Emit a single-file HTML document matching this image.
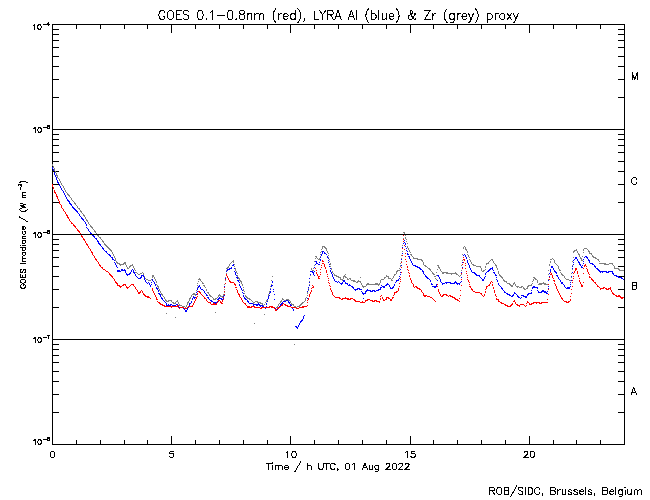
<!DOCTYPE html>
<html><head><meta charset="utf-8"><title>GOES / LYRA proxy</title>
<style>
html,body{margin:0;padding:0;background:#fff;}
body{width:650px;height:500px;overflow:hidden;font-family:"Liberation Sans",sans-serif;}
svg{display:block;}
.k{stroke:#000;stroke-width:1;fill:none;stroke-linecap:square;}
.t{stroke:#000;stroke-width:1;fill:none;stroke-linecap:round;stroke-linejoin:round;}
</style></head><body>
<svg width="650" height="500" viewBox="0 0 650 500" shape-rendering="crispEdges">
<rect x="0" y="0" width="650" height="500" fill="#fff"/>
<path class="k" d="M52.5 24.5H624.5V444.5H52.5ZM52.5 444.5v-8M52.5 24.5v8M76.5 444.5v-4M76.5 24.5v4M100.5 444.5v-4M100.5 24.5v4M124.5 444.5v-4M124.5 24.5v4M147.5 444.5v-4M147.5 24.5v4M171.5 444.5v-8M171.5 24.5v8M195.5 444.5v-4M195.5 24.5v4M219.5 444.5v-4M219.5 24.5v4M243.5 444.5v-4M243.5 24.5v4M267.5 444.5v-4M267.5 24.5v4M290.5 444.5v-8M290.5 24.5v8M314.5 444.5v-4M314.5 24.5v4M338.5 444.5v-4M338.5 24.5v4M362.5 444.5v-4M362.5 24.5v4M386.5 444.5v-4M386.5 24.5v4M410.5 444.5v-8M410.5 24.5v8M433.5 444.5v-4M433.5 24.5v4M457.5 444.5v-4M457.5 24.5v4M481.5 444.5v-4M481.5 24.5v4M505.5 444.5v-4M505.5 24.5v4M529.5 444.5v-8M529.5 24.5v8M553.5 444.5v-4M553.5 24.5v4M576.5 444.5v-4M576.5 24.5v4M600.5 444.5v-4M600.5 24.5v4M624.5 444.5v-4M624.5 24.5v4M52.5 444.5h11M624.5 444.5h-11M52.5 412.5h6M624.5 412.5h-6M52.5 394.5h6M624.5 394.5h-6M52.5 381.5h6M624.5 381.5h-6M52.5 371.5h6M624.5 371.5h-6M52.5 362.5h6M624.5 362.5h-6M52.5 355.5h6M624.5 355.5h-6M52.5 349.5h6M624.5 349.5h-6M52.5 344.5h6M624.5 344.5h-6M52.5 339.5h11M624.5 339.5h-11M52.5 307.5h6M624.5 307.5h-6M52.5 289.5h6M624.5 289.5h-6M52.5 276.5h6M624.5 276.5h-6M52.5 266.5h6M624.5 266.5h-6M52.5 257.5h6M624.5 257.5h-6M52.5 250.5h6M624.5 250.5h-6M52.5 244.5h6M624.5 244.5h-6M52.5 239.5h6M624.5 239.5h-6M52.5 234.5h11M624.5 234.5h-11M52.5 202.5h6M624.5 202.5h-6M52.5 184.5h6M624.5 184.5h-6M52.5 171.5h6M624.5 171.5h-6M52.5 161.5h6M624.5 161.5h-6M52.5 152.5h6M624.5 152.5h-6M52.5 145.5h6M624.5 145.5h-6M52.5 139.5h6M624.5 139.5h-6M52.5 134.5h6M624.5 134.5h-6M52.5 129.5h11M624.5 129.5h-11M52.5 97.5h6M624.5 97.5h-6M52.5 79.5h6M624.5 79.5h-6M52.5 66.5h6M624.5 66.5h-6M52.5 56.5h6M624.5 56.5h-6M52.5 47.5h6M624.5 47.5h-6M52.5 40.5h6M624.5 40.5h-6M52.5 34.5h6M624.5 34.5h-6M52.5 29.5h6M624.5 29.5h-6"/>
<path d="M52 164.5h1M52 165.5h1M53 166.5h1M53 167.5h1M54 168.5h1M54 169.5h1M54 170.5h1M55 171.5h1M55 172.5h1M56 173.5h1M56 174.5h1M56 175.5h2M57 176.5h1M57 177.5h1M58 178.5h1M59 179.5h1M59 180.5h1M60 181.5h1M60 182.5h1M61 183.5h1M61 184.5h1M62 185.5h1M63 186.5h1M63 187.5h1M64 188.5h1M64 189.5h1M65 190.5h1M65 191.5h1M66 192.5h1M67 193.5h1M67 194.5h2M68 195.5h2M69 196.5h1M70 197.5h1M71 198.5h1M71 199.5h1M72 200.5h1M73 201.5h1M74 202.5h1M74 203.5h2M75 204.5h1M76 205.5h1M77 206.5h1M77 207.5h1M78 208.5h2M79 209.5h1M80 210.5h1M80 211.5h2M81 212.5h1M82 213.5h1M83 214.5h1M83 215.5h2M84 216.5h1M85 217.5h1M85 218.5h1M86 219.5h1M86 220.5h2M87 221.5h1M88 222.5h1M88 223.5h1M89 224.5h1M90 225.5h1M90 226.5h2M91 227.5h2M92 228.5h1M93 229.5h1M94 230.5h1M94 231.5h2M95 232.5h1M403 232.5h2M96 233.5h1M404 233.5h1M96 234.5h2M97 235.5h2M405 235.5h1M98 236.5h1M99 237.5h2M405 237.5h1M100 238.5h1M403 238.5h1M405 238.5h1M101 239.5h1M406 239.5h1M102 240.5h1M102 241.5h2M406 241.5h1M103 242.5h1M104 243.5h1M407 243.5h1M104 244.5h2M105 245.5h2M402 245.5h1M106 246.5h2M322 246.5h3M407 246.5h1M464 246.5h1M107 247.5h2M322 247.5h1M324 247.5h2M407 247.5h1M463 247.5h1M465 247.5h1M108 248.5h2M322 248.5h1M325 248.5h2M408 248.5h1M463 248.5h1M465 248.5h1M584 248.5h3M109 249.5h2M321 249.5h1M326 249.5h1M408 249.5h1M465 249.5h2M576 249.5h1M583 249.5h1M587 249.5h1M110 250.5h2M326 250.5h1M409 250.5h1M466 250.5h1M574 250.5h3M583 250.5h1M588 250.5h1M111 251.5h1M321 251.5h1M327 251.5h1M402 251.5h1M409 251.5h1M467 251.5h1M573 251.5h2M577 251.5h1M588 251.5h2M112 252.5h1M320 252.5h1M327 252.5h1M410 252.5h1M467 252.5h1M573 252.5h1M577 252.5h1M583 252.5h1M589 252.5h1M112 253.5h1M328 253.5h1M578 253.5h1M589 253.5h3M113 254.5h1M320 254.5h1M410 254.5h2M462 254.5h1M467 254.5h1M578 254.5h2M591 254.5h1M113 255.5h1M328 255.5h1M401 255.5h1M411 255.5h1M468 255.5h1M579 255.5h1M592 255.5h1M114 256.5h1M315 256.5h2M320 256.5h1M412 256.5h1M468 256.5h1M579 256.5h1M582 256.5h1M592 256.5h2M114 257.5h1M316 257.5h1M328 257.5h1M413 257.5h1M469 257.5h1M573 257.5h1M580 257.5h1M593 257.5h3M115 258.5h1M315 258.5h1M317 258.5h1M319 258.5h1M401 258.5h1M413 258.5h5M552 258.5h1M580 258.5h2M595 258.5h2M115 259.5h1M318 259.5h2M329 259.5h1M417 259.5h5M469 259.5h1M491 259.5h2M550 259.5h2M553 259.5h1M581 259.5h1M597 259.5h2M115 260.5h1M233 260.5h1M421 260.5h2M462 260.5h1M470 260.5h1M490 260.5h1M492 260.5h1M554 260.5h1M581 260.5h2M598 260.5h1M116 261.5h1M232 261.5h2M314 261.5h1M329 261.5h1M401 261.5h1M422 261.5h1M470 261.5h1M489 261.5h1M493 261.5h1M550 261.5h1M554 261.5h1M572 261.5h1M599 261.5h1M116 262.5h2M124 262.5h2M231 262.5h1M233 262.5h1M423 262.5h1M471 262.5h1M488 262.5h1M493 262.5h1M550 262.5h1M554 262.5h1M117 263.5h3M123 263.5h3M230 263.5h1M330 263.5h1M400 263.5h1M423 263.5h1M471 263.5h1M486 263.5h3M494 263.5h1M555 263.5h1M599 263.5h7M609 263.5h4M119 264.5h5M125 264.5h1M132 264.5h1M229 264.5h1M234 264.5h1M330 264.5h1M423 264.5h1M472 264.5h2M486 264.5h1M495 264.5h1M549 264.5h1M556 264.5h1M604 264.5h5M612 264.5h1M120 265.5h1M126 265.5h1M130 265.5h3M229 265.5h1M314 265.5h1M400 265.5h1M424 265.5h2M437 265.5h2M461 265.5h1M473 265.5h3M495 265.5h2M549 265.5h1M557 265.5h1M572 265.5h1M613 265.5h1M126 266.5h1M129 266.5h2M133 266.5h1M228 266.5h1M234 266.5h1M330 266.5h1M400 266.5h1M425 266.5h2M438 266.5h1M476 266.5h5M485 266.5h1M496 266.5h1M558 266.5h1M614 266.5h1M127 267.5h1M129 267.5h1M133 267.5h1M227 267.5h2M314 267.5h1M427 267.5h1M438 267.5h2M480 267.5h1M485 267.5h1M496 267.5h1M558 267.5h1M614 267.5h1M127 268.5h2M134 268.5h1M226 268.5h2M235 268.5h1M311 268.5h1M313 268.5h1M331 268.5h1M399 268.5h1M428 268.5h2M439 268.5h1M481 268.5h1M497 268.5h1M558 268.5h1M614 268.5h5M134 269.5h1M235 269.5h1M311 269.5h1M331 269.5h1M429 269.5h2M437 269.5h1M440 269.5h1M481 269.5h1M485 269.5h1M497 269.5h1M559 269.5h1M572 269.5h1M618 269.5h2M135 270.5h1M226 270.5h1M235 270.5h1M312 270.5h2M397 270.5h3M430 270.5h1M440 270.5h1M461 270.5h1M481 270.5h1M483 270.5h2M548 270.5h1M559 270.5h2M619 270.5h5M236 271.5h1M310 271.5h1M312 271.5h1M332 271.5h1M396 271.5h2M431 271.5h1M441 271.5h1M482 271.5h2M498 271.5h1M135 272.5h2M142 272.5h1M236 272.5h1M313 272.5h1M332 272.5h1M396 272.5h1M432 272.5h1M436 272.5h1M442 272.5h6M455 272.5h1M498 272.5h1M560 272.5h1M137 273.5h1M140 273.5h2M143 273.5h1M226 273.5h1M237 273.5h1M333 273.5h1M396 273.5h1M432 273.5h2M442 273.5h2M446 273.5h11M498 273.5h1M561 273.5h1M571 273.5h1M138 274.5h2M143 274.5h1M334 274.5h1M345 274.5h1M394 274.5h2M433 274.5h2M451 274.5h1M456 274.5h2M461 274.5h1M499 274.5h1M548 274.5h1M561 274.5h2M143 275.5h1M152 275.5h2M237 275.5h1M310 275.5h1M334 275.5h3M344 275.5h1M386 275.5h1M394 275.5h1M436 275.5h1M458 275.5h1M460 275.5h1M499 275.5h2M562 275.5h2M144 276.5h1M152 276.5h2M237 276.5h1M272 276.5h1M336 276.5h3M343 276.5h3M386 276.5h3M393 276.5h1M434 276.5h2M459 276.5h1M500 276.5h2M564 276.5h1M152 277.5h1M154 277.5h1M225 277.5h1M238 277.5h1M338 277.5h3M343 277.5h1M345 277.5h2M360 277.5h1M384 277.5h2M388 277.5h1M393 277.5h1M501 277.5h2M533 277.5h2M564 277.5h1M571 277.5h1M144 278.5h2M154 278.5h1M199 278.5h1M238 278.5h2M309 278.5h1M340 278.5h1M343 278.5h1M347 278.5h1M349 278.5h2M384 278.5h1M388 278.5h3M392 278.5h1M435 278.5h1M502 278.5h1M534 278.5h2M565 278.5h1M146 279.5h2M151 279.5h1M155 279.5h1M198 279.5h3M239 279.5h1M340 279.5h3M347 279.5h2M350 279.5h1M381 279.5h3M391 279.5h1M436 279.5h1M503 279.5h1M533 279.5h1M535 279.5h2M548 279.5h1M566 279.5h3M148 280.5h3M155 280.5h1M200 280.5h1M225 280.5h1M239 280.5h2M271 280.5h1M342 280.5h1M351 280.5h4M358 280.5h1M380 280.5h1M391 280.5h2M503 280.5h2M533 280.5h1M537 280.5h1M569 280.5h2M156 281.5h1M198 281.5h1M201 281.5h1M240 281.5h2M309 281.5h1M353 281.5h3M357 281.5h4M380 281.5h1M504 281.5h3M532 281.5h1M537 281.5h1M156 282.5h1M202 282.5h1M241 282.5h1M356 282.5h2M360 282.5h1M380 282.5h1M506 282.5h1M514 282.5h1M537 282.5h1M543 282.5h1M197 283.5h1M202 283.5h2M241 283.5h1M361 283.5h1M367 283.5h2M375 283.5h3M379 283.5h1M507 283.5h3M513 283.5h2M532 283.5h1M539 283.5h7M156 284.5h1M224 284.5h1M242 284.5h1M271 284.5h1M309 284.5h1M361 284.5h1M366 284.5h14M509 284.5h2M513 284.5h1M515 284.5h1M531 284.5h1M538 284.5h4M544 284.5h4M157 285.5h1M197 285.5h1M203 285.5h2M242 285.5h1M362 285.5h1M366 285.5h1M378 285.5h1M510 285.5h3M515 285.5h1M528 285.5h4M157 286.5h2M204 286.5h1M270 286.5h1M362 286.5h4M511 286.5h2M516 286.5h3M521 286.5h2M527 286.5h2M158 287.5h1M197 287.5h1M205 287.5h1M243 287.5h1M363 287.5h1M517 287.5h1M519 287.5h3M523 287.5h1M527 287.5h1M158 288.5h1M270 288.5h1M308 288.5h1M523 288.5h2M526 288.5h2M159 289.5h1M206 289.5h1M224 289.5h1M243 289.5h1M270 289.5h1M524 289.5h2M159 290.5h1M196 290.5h1M206 290.5h1M243 290.5h1M308 290.5h1M160 291.5h1M244 291.5h1M269 291.5h1M160 292.5h1M196 292.5h1M207 292.5h2M224 292.5h1M269 292.5h1M307 292.5h1M161 293.5h1M193 293.5h2M208 293.5h1M244 293.5h1M307 293.5h1M161 294.5h2M192 294.5h4M209 294.5h1M219 294.5h1M223 294.5h1M268 294.5h1M162 295.5h1M191 295.5h1M195 295.5h1M209 295.5h2M218 295.5h3M223 295.5h1M245 295.5h1M268 295.5h1M307 295.5h1M163 296.5h1M191 296.5h1M210 296.5h2M218 296.5h1M220 296.5h3M245 296.5h2M164 297.5h1M190 297.5h1M212 297.5h1M217 297.5h1M222 297.5h1M246 297.5h2M268 297.5h1M306 297.5h1M164 298.5h1M189 298.5h2M213 298.5h1M215 298.5h2M247 298.5h3M282 298.5h1M305 298.5h1M165 299.5h1M189 299.5h1M213 299.5h3M249 299.5h2M267 299.5h1M282 299.5h2M286 299.5h3M305 299.5h1M165 300.5h2M168 300.5h4M177 300.5h1M189 300.5h1M251 300.5h1M266 300.5h2M281 300.5h1M284 300.5h3M288 300.5h2M305 300.5h1M166 301.5h3M171 301.5h1M176 301.5h2M188 301.5h1M252 301.5h1M255 301.5h3M266 301.5h1M280 301.5h2M290 301.5h1M304 301.5h1M172 302.5h2M175 302.5h1M178 302.5h1M187 302.5h2M253 302.5h2M257 302.5h4M265 302.5h1M280 302.5h1M290 302.5h1M302 302.5h2M173 303.5h3M178 303.5h1M187 303.5h1M253 303.5h1M260 303.5h3M279 303.5h1M291 303.5h1M301 303.5h2M179 304.5h1M187 304.5h1M262 304.5h1M264 304.5h1M278 304.5h1M291 304.5h3M300 304.5h2M179 305.5h3M186 305.5h1M263 305.5h1M278 305.5h1M293 305.5h1M299 305.5h2M182 306.5h3M186 306.5h1M277 306.5h1M294 306.5h2M297 306.5h3M183 307.5h1M185 307.5h1M276 307.5h2M295 307.5h2M215 312.5h1M166 313.5h1M264 314.5h1M175 317.5h1M254 323.5h1M294 344.5h1" stroke="#7f7f7f" stroke-width="1" fill="none"/>
<path d="M52 167.5h1M52 168.5h1M53 169.5h1M53 170.5h1M54 172.5h1M54 173.5h1M54 174.5h1M55 175.5h1M55 176.5h1M56 177.5h1M56 178.5h1M56 179.5h1M57 180.5h1M57 181.5h1M57 182.5h2M58 183.5h1M59 184.5h1M59 185.5h1M60 186.5h1M60 187.5h1M61 188.5h1M61 189.5h1M62 190.5h1M63 191.5h1M63 192.5h1M64 193.5h1M64 194.5h1M65 195.5h1M65 196.5h1M66 197.5h1M66 198.5h1M67 199.5h1M67 200.5h2M68 201.5h2M69 202.5h1M69 203.5h2M70 204.5h2M71 205.5h1M72 206.5h1M72 207.5h2M73 208.5h2M74 209.5h2M75 210.5h2M76 211.5h2M77 212.5h1M78 213.5h1M79 214.5h1M79 215.5h1M80 216.5h1M81 217.5h1M81 218.5h2M82 219.5h2M83 220.5h1M84 221.5h1M85 222.5h1M85 223.5h1M86 224.5h1M86 225.5h1M86 227.5h1M87 228.5h1M88 229.5h1M88 230.5h1M89 231.5h1M90 232.5h1M90 233.5h2M91 234.5h2M92 235.5h2M93 236.5h2M94 237.5h1M95 238.5h2M96 239.5h1M403 239.5h1M97 240.5h1M404 240.5h1M97 241.5h2M403 241.5h1M98 242.5h1M404 242.5h1M98 243.5h2M403 243.5h1M405 243.5h1M99 244.5h2M405 244.5h1M100 245.5h1M101 246.5h1M405 246.5h1M102 247.5h1M402 247.5h1M102 248.5h2M406 248.5h1M103 249.5h1M104 250.5h1M406 250.5h1M105 251.5h2M322 251.5h2M407 251.5h1M106 252.5h1M322 252.5h1M324 252.5h1M107 253.5h1M322 253.5h1M324 253.5h2M402 253.5h1M407 253.5h1M108 254.5h2M321 254.5h1M326 254.5h1M407 254.5h2M464 254.5h1M109 255.5h2M321 255.5h1M463 255.5h1M465 255.5h1M110 256.5h1M327 256.5h1M408 256.5h2M465 256.5h1M585 256.5h2M111 257.5h2M320 257.5h1M327 257.5h1M409 257.5h1M463 257.5h1M466 257.5h1M575 257.5h2M584 257.5h1M586 257.5h2M112 258.5h1M328 258.5h1M409 258.5h1M466 258.5h1M575 258.5h2M587 258.5h1M112 259.5h2M320 259.5h1M401 259.5h1M410 259.5h1M574 259.5h1M577 259.5h1M583 259.5h1M588 259.5h1M114 260.5h1M320 260.5h1M328 260.5h1M410 260.5h1M467 260.5h1M573 260.5h1M577 260.5h1M588 260.5h2M315 261.5h2M411 261.5h1M467 261.5h1M578 261.5h1M583 261.5h1M589 261.5h1M114 262.5h1M316 262.5h1M319 262.5h1M328 262.5h1M401 262.5h1M411 262.5h1M462 262.5h1M467 262.5h1M573 262.5h1M578 262.5h2M589 262.5h1M115 263.5h1M316 263.5h2M412 263.5h1M468 263.5h1M579 263.5h1M583 263.5h1M590 263.5h3M115 264.5h1M233 264.5h1M315 264.5h1M318 264.5h2M329 264.5h1M412 264.5h1M468 264.5h1M573 264.5h1M579 264.5h2M592 264.5h2M116 265.5h1M232 265.5h2M401 265.5h1M413 265.5h3M469 265.5h1M580 265.5h1M582 265.5h1M594 265.5h1M116 266.5h1M329 266.5h1M415 266.5h3M469 266.5h1M551 266.5h2M572 266.5h1M581 266.5h1M594 266.5h2M117 267.5h1M231 267.5h1M314 267.5h1M417 267.5h3M462 267.5h1M469 267.5h1M492 267.5h1M551 267.5h2M581 267.5h2M595 267.5h1M229 268.5h3M234 268.5h1M330 268.5h1M419 268.5h2M470 268.5h1M490 268.5h3M553 268.5h1M572 268.5h1M596 268.5h2M121 269.5h2M124 269.5h1M132 269.5h1M227 269.5h3M400 269.5h1M420 269.5h2M470 269.5h1M489 269.5h2M492 269.5h1M550 269.5h1M553 269.5h1M597 269.5h2M117 270.5h3M121 270.5h5M131 270.5h1M133 270.5h1M227 270.5h1M330 270.5h1M422 270.5h1M471 270.5h1M488 270.5h2M493 270.5h1M550 270.5h1M554 270.5h1M598 270.5h2M117 271.5h4M125 271.5h1M131 271.5h1M133 271.5h1M226 271.5h1M234 271.5h1M310 271.5h3M314 271.5h1M330 271.5h1M422 271.5h2M471 271.5h1M487 271.5h2M550 271.5h1M554 271.5h2M599 271.5h8M608 271.5h5M125 272.5h1M130 272.5h1M133 272.5h2M235 272.5h1M312 272.5h2M331 272.5h1M400 272.5h1M423 272.5h1M461 272.5h1M472 272.5h3M486 272.5h1M493 272.5h2M555 272.5h2M572 272.5h1M600 272.5h1M602 272.5h1M606 272.5h3M612 272.5h1M126 273.5h1M129 273.5h2M134 273.5h1M235 273.5h1M313 273.5h1M331 273.5h1M423 273.5h1M474 273.5h2M485 273.5h1M494 273.5h1M549 273.5h1M556 273.5h1M612 273.5h2M126 274.5h4M135 274.5h1M226 274.5h1M235 274.5h1M310 274.5h1M313 274.5h1M332 274.5h1M400 274.5h1M424 274.5h1M475 274.5h2M485 274.5h1M495 274.5h1M613 274.5h1M127 275.5h1M135 275.5h1M141 275.5h3M236 275.5h1M314 275.5h1M332 275.5h1M425 275.5h1M437 275.5h2M476 275.5h4M495 275.5h2M556 275.5h2M614 275.5h3M136 276.5h1M141 276.5h1M143 276.5h1M332 276.5h1M399 276.5h1M425 276.5h2M438 276.5h1M479 276.5h1M485 276.5h1M549 276.5h1M557 276.5h1M571 276.5h1M616 276.5h3M137 277.5h1M140 277.5h2M144 277.5h1M236 277.5h2M333 277.5h1M426 277.5h2M439 277.5h1M461 277.5h1M480 277.5h1M484 277.5h1M496 277.5h1M558 277.5h1M618 277.5h4M138 278.5h3M144 278.5h1M225 278.5h1M237 278.5h1M309 278.5h1M333 278.5h1M399 278.5h1M427 278.5h2M439 278.5h1M481 278.5h1M484 278.5h1M558 278.5h1M621 278.5h2M144 279.5h1M152 279.5h1M334 279.5h1M398 279.5h1M429 279.5h1M440 279.5h1M482 279.5h2M496 279.5h1M559 279.5h1M623 279.5h1M145 280.5h1M152 280.5h1M237 280.5h2M334 280.5h1M343 280.5h2M396 280.5h3M430 280.5h1M437 280.5h1M440 280.5h1M482 280.5h2M497 280.5h1M548 280.5h1M560 280.5h1M571 280.5h1M145 281.5h1M153 281.5h1M238 281.5h1M272 281.5h1M335 281.5h2M338 281.5h1M343 281.5h2M396 281.5h1M430 281.5h1M440 281.5h1M455 281.5h1M461 281.5h1M497 281.5h1M560 281.5h1M146 282.5h1M148 282.5h1M151 282.5h1M154 282.5h1M239 282.5h1M272 282.5h1M309 282.5h1M337 282.5h1M339 282.5h1M342 282.5h1M345 282.5h1M395 282.5h1M441 282.5h1M445 282.5h6M454 282.5h3M460 282.5h1M561 282.5h2M570 282.5h1M147 283.5h1M149 283.5h1M154 283.5h1M225 283.5h1M340 283.5h3M345 283.5h3M387 283.5h1M431 283.5h1M442 283.5h3M446 283.5h1M450 283.5h5M456 283.5h4M498 283.5h1M561 283.5h2M149 284.5h1M151 284.5h1M155 284.5h1M239 284.5h1M341 284.5h1M347 284.5h1M349 284.5h1M386 284.5h3M394 284.5h1M431 284.5h2M436 284.5h1M442 284.5h1M457 284.5h1M459 284.5h1M498 284.5h1M563 284.5h1M570 284.5h1M150 285.5h1M155 285.5h1M199 285.5h1M239 285.5h1M271 285.5h2M309 285.5h1M348 285.5h3M381 285.5h1M385 285.5h2M389 285.5h1M394 285.5h1M436 285.5h1M499 285.5h1M564 285.5h1M150 286.5h1M198 286.5h2M224 286.5h1M240 286.5h1M271 286.5h1M351 286.5h2M382 286.5h3M389 286.5h1M393 286.5h1M432 286.5h5M500 286.5h1M533 286.5h2M548 286.5h1M564 286.5h1M570 286.5h1M156 287.5h1M198 287.5h1M200 287.5h1M240 287.5h1M308 287.5h1M352 287.5h2M380 287.5h2M383 287.5h2M390 287.5h1M392 287.5h2M434 287.5h2M501 287.5h1M532 287.5h6M565 287.5h1M567 287.5h3M156 288.5h2M197 288.5h1M200 288.5h1M241 288.5h1M353 288.5h1M357 288.5h3M380 288.5h1M390 288.5h3M501 288.5h2M532 288.5h1M537 288.5h1M548 288.5h1M566 288.5h4M157 289.5h1M197 289.5h1M201 289.5h2M241 289.5h1M270 289.5h1M273 289.5h1M308 289.5h1M354 289.5h4M359 289.5h3M367 289.5h1M378 289.5h3M502 289.5h1M158 290.5h1M203 290.5h1M242 290.5h1M355 290.5h1M366 290.5h5M372 290.5h3M376 290.5h3M503 290.5h1M531 290.5h1M537 290.5h1M542 290.5h2M158 291.5h1M197 291.5h1M204 291.5h1M224 291.5h1M270 291.5h1M273 291.5h1M307 291.5h1M361 291.5h1M365 291.5h2M370 291.5h3M374 291.5h2M504 291.5h1M538 291.5h1M541 291.5h5M547 291.5h1M196 292.5h1M204 292.5h1M242 292.5h1M270 292.5h1M362 292.5h1M365 292.5h1M504 292.5h2M514 292.5h1M531 292.5h1M538 292.5h4M544 292.5h3M158 293.5h2M205 293.5h1M243 293.5h1M269 293.5h1M362 293.5h4M506 293.5h2M514 293.5h2M528 293.5h4M546 293.5h2M159 294.5h2M196 294.5h1M206 294.5h1M274 294.5h1M363 294.5h1M507 294.5h3M513 294.5h1M516 294.5h1M527 294.5h2M160 295.5h1M206 295.5h2M224 295.5h1M243 295.5h1M269 295.5h1M509 295.5h2M512 295.5h2M517 295.5h1M521 295.5h3M527 295.5h1M160 296.5h1M193 296.5h1M223 296.5h1M243 296.5h1M268 296.5h1M511 296.5h2M517 296.5h2M523 296.5h4M161 297.5h1M193 297.5h3M207 297.5h2M219 297.5h1M244 297.5h1M268 297.5h1M518 297.5h2M521 297.5h1M525 297.5h2M161 298.5h2M192 298.5h1M194 298.5h1M208 298.5h1M218 298.5h4M223 298.5h1M244 298.5h2M268 298.5h1M307 298.5h1M363 298.5h1M520 298.5h1M162 299.5h1M192 299.5h1M195 299.5h1M209 299.5h1M217 299.5h2M221 299.5h2M245 299.5h2M267 299.5h1M274 299.5h1M163 300.5h1M210 300.5h2M222 300.5h1M247 300.5h1M286 300.5h2M164 301.5h1M191 301.5h1M211 301.5h2M217 301.5h1M247 301.5h2M267 301.5h1M283 301.5h3M288 301.5h1M165 302.5h1M191 302.5h1M213 302.5h4M248 302.5h1M282 302.5h1M288 302.5h2M166 303.5h1M189 303.5h2M215 303.5h2M249 303.5h4M258 303.5h1M266 303.5h1M281 303.5h2M289 303.5h1M166 304.5h1M168 304.5h1M170 304.5h2M176 304.5h2M189 304.5h1M253 304.5h7M266 304.5h1M280 304.5h2M290 304.5h1M166 305.5h5M172 305.5h4M177 305.5h1M189 305.5h1M253 305.5h1M256 305.5h2M259 305.5h4M280 305.5h1M290 305.5h2M173 306.5h1M178 306.5h1M188 306.5h1M260 306.5h1M262 306.5h2M266 306.5h1M279 306.5h1M179 307.5h5M188 307.5h1M263 307.5h3M274 307.5h1M278 307.5h1M291 307.5h2M183 308.5h1M187 308.5h1M265 308.5h1M275 308.5h1M278 308.5h1M292 308.5h1M184 309.5h1M187 309.5h1M275 309.5h3M293 309.5h1M185 310.5h2M293 310.5h1M185 311.5h2M304 315.5h1M303 316.5h1M303 317.5h1M303 318.5h1M302 319.5h1M301 320.5h2M300 321.5h2M300 322.5h1M299 323.5h1M299 324.5h1M298 325.5h1M295 326.5h2M298 326.5h1M296 327.5h2M297 328.5h1" stroke="#0000ff" stroke-width="1" fill="none"/>
<path d="M52 184.5h1M52 185.5h1M52 186.5h1M53 187.5h1M53 188.5h1M54 190.5h1M54 191.5h1M54 192.5h2M55 193.5h1M56 194.5h1M56 195.5h1M56 196.5h2M57 197.5h1M57 198.5h1M58 199.5h1M58 200.5h1M59 201.5h1M59 202.5h1M59 203.5h1M60 204.5h1M61 205.5h1M61 206.5h1M61 207.5h1M62 208.5h1M63 209.5h1M63 210.5h1M64 211.5h1M65 212.5h1M65 213.5h1M66 214.5h1M66 215.5h2M67 216.5h1M67 217.5h2M68 218.5h1M69 219.5h1M69 220.5h1M70 221.5h1M71 222.5h1M71 223.5h2M73 224.5h1M73 225.5h2M74 226.5h2M75 227.5h1M76 228.5h1M77 229.5h1M77 230.5h2M78 231.5h2M79 232.5h1M80 233.5h1M80 234.5h2M81 235.5h1M403 235.5h1M81 236.5h2M82 237.5h1M83 238.5h1M83 239.5h2M403 239.5h1M84 240.5h1M85 241.5h1M403 241.5h1M85 242.5h1M86 243.5h1M86 244.5h2M87 245.5h1M404 245.5h1M88 246.5h1M88 247.5h1M89 248.5h1M402 248.5h1M90 249.5h1M404 249.5h1M90 250.5h1M91 251.5h1M91 252.5h2M92 253.5h1M405 253.5h1M92 254.5h1M93 255.5h1M402 255.5h1M94 256.5h1M405 256.5h1M94 257.5h1M463 257.5h1M95 258.5h1M95 259.5h2M405 259.5h1M463 259.5h2M96 260.5h1M322 260.5h1M464 260.5h1M97 261.5h1M322 261.5h2M406 261.5h1M98 262.5h1M401 262.5h1M463 262.5h1M98 263.5h1M322 263.5h2M465 263.5h1M99 264.5h1M324 264.5h1M406 264.5h1M462 264.5h1M585 264.5h1M99 265.5h2M321 265.5h1M324 265.5h1M465 265.5h1M584 265.5h2M100 266.5h1M324 266.5h1M407 266.5h1M584 266.5h1M586 266.5h1M101 267.5h2M321 267.5h1M325 267.5h1M401 267.5h1M407 267.5h1M102 268.5h1M315 268.5h1M325 268.5h1M462 268.5h1M465 268.5h1M575 268.5h2M583 268.5h1M586 268.5h1M103 269.5h2M320 269.5h1M407 269.5h1M575 269.5h2M587 269.5h1M105 270.5h1M316 270.5h1M326 270.5h1M408 270.5h1M575 270.5h1M587 270.5h1M106 271.5h2M326 271.5h1M466 271.5h1M574 271.5h1M577 271.5h1M587 271.5h1M108 272.5h1M316 272.5h1M320 272.5h1M326 272.5h1M401 272.5h1M408 272.5h1M550 272.5h1M574 272.5h1M577 272.5h1M588 272.5h1M109 273.5h1M316 273.5h1M409 273.5h1M461 273.5h1M466 273.5h1M551 273.5h1M573 273.5h1M577 273.5h1M583 273.5h1M588 273.5h1M109 274.5h2M226 274.5h1M317 274.5h1M320 274.5h1M327 274.5h1M550 274.5h2M589 274.5h1M110 275.5h2M226 275.5h1M317 275.5h1M409 275.5h1M467 275.5h1M552 275.5h1M578 275.5h1M111 276.5h2M227 276.5h1M318 276.5h2M327 276.5h1M409 276.5h1M552 276.5h1M573 276.5h1M578 276.5h1M589 276.5h1M112 277.5h1M227 277.5h1M318 277.5h1M400 277.5h1M467 277.5h1M549 277.5h1M552 277.5h1M589 277.5h2M113 278.5h1M228 278.5h1M318 278.5h2M328 278.5h1M410 278.5h1M553 278.5h1M573 278.5h1M579 278.5h1M591 278.5h1M114 279.5h1M225 279.5h1M228 279.5h1M400 279.5h1M410 279.5h1M461 279.5h1M467 279.5h1M549 279.5h1M591 279.5h2M114 280.5h1M229 280.5h1M328 280.5h1M411 280.5h1M468 280.5h1M553 280.5h2M572 280.5h1M579 280.5h1M592 280.5h2M115 281.5h1M229 281.5h2M400 281.5h1M411 281.5h1M468 281.5h1M491 281.5h1M554 281.5h1M579 281.5h1M593 281.5h1M115 282.5h2M230 282.5h4M328 282.5h1M411 282.5h1M469 282.5h1M490 282.5h1M492 282.5h1M572 282.5h1M580 282.5h1M583 282.5h1M594 282.5h2M116 283.5h2M225 283.5h1M234 283.5h1M329 283.5h1M399 283.5h1M412 283.5h1M490 283.5h1M554 283.5h1M580 283.5h1M595 283.5h1M117 284.5h1M123 284.5h3M131 284.5h3M234 284.5h2M413 284.5h1M437 284.5h1M469 284.5h1M489 284.5h1M492 284.5h1M548 284.5h1M555 284.5h1M581 284.5h1M596 284.5h1M117 285.5h3M122 285.5h2M125 285.5h1M130 285.5h1M133 285.5h1M235 285.5h1M312 285.5h1M329 285.5h1M413 285.5h1M461 285.5h1M488 285.5h2M492 285.5h1M555 285.5h1M581 285.5h2M597 285.5h1M119 286.5h3M126 286.5h1M129 286.5h1M134 286.5h1M313 286.5h1M330 286.5h1M399 286.5h1M413 286.5h1M415 286.5h2M437 286.5h1M469 286.5h2M486 286.5h2M556 286.5h1M572 286.5h1M581 286.5h2M597 286.5h2M120 287.5h1M126 287.5h3M135 287.5h1M224 287.5h1M235 287.5h2M312 287.5h2M414 287.5h1M416 287.5h2M470 287.5h1M486 287.5h1M493 287.5h1M556 287.5h1M599 287.5h1M603 287.5h2M610 287.5h1M127 288.5h1M135 288.5h1M152 288.5h1M311 288.5h1M330 288.5h1M398 288.5h1M417 288.5h3M471 288.5h1M486 288.5h1M493 288.5h1M556 288.5h1M600 288.5h4M605 288.5h2M608 288.5h3M136 289.5h1M152 289.5h1M236 289.5h1M330 289.5h1M398 289.5h1M419 289.5h2M438 289.5h1M471 289.5h2M485 289.5h1M548 289.5h1M557 289.5h1M571 289.5h1M600 289.5h1M606 289.5h3M610 289.5h1M137 290.5h1M141 290.5h1M152 290.5h1M237 290.5h1M311 290.5h1M331 290.5h1M398 290.5h1M421 290.5h1M438 290.5h1M460 290.5h1M472 290.5h1M494 290.5h1M557 290.5h1M611 290.5h1M137 291.5h1M140 291.5h1M142 291.5h1M153 291.5h1M198 291.5h2M224 291.5h1M237 291.5h1M311 291.5h1M331 291.5h1M396 291.5h2M421 291.5h1M438 291.5h1M473 291.5h2M485 291.5h1M494 291.5h1M558 291.5h1M611 291.5h1M138 292.5h3M142 292.5h1M153 292.5h1M199 292.5h2M237 292.5h1M310 292.5h1M332 292.5h1M394 292.5h3M422 292.5h1M439 292.5h1M475 292.5h5M485 292.5h1M494 292.5h1M558 292.5h1M612 292.5h1M138 293.5h2M143 293.5h1M154 293.5h1M197 293.5h1M200 293.5h1M238 293.5h1M310 293.5h1M332 293.5h1M394 293.5h1M423 293.5h1M439 293.5h1M480 293.5h2M559 293.5h1M571 293.5h1M612 293.5h2M143 294.5h2M154 294.5h1M197 294.5h1M201 294.5h1M224 294.5h1M238 294.5h2M309 294.5h1M332 294.5h1M394 294.5h1M423 294.5h1M440 294.5h1M443 294.5h4M481 294.5h1M484 294.5h1M495 294.5h1M548 294.5h1M559 294.5h1M613 294.5h2M144 295.5h2M155 295.5h1M202 295.5h1M239 295.5h1M309 295.5h1M333 295.5h1M381 295.5h1M393 295.5h1M423 295.5h4M440 295.5h1M442 295.5h2M446 295.5h2M449 295.5h2M460 295.5h1M482 295.5h1M484 295.5h1M495 295.5h1M560 295.5h1M615 295.5h2M618 295.5h2M145 296.5h4M155 296.5h1M197 296.5h1M203 296.5h1M239 296.5h1M309 296.5h1M334 296.5h1M380 296.5h1M424 296.5h2M427 296.5h3M441 296.5h2M448 296.5h1M450 296.5h3M483 296.5h1M496 296.5h1M560 296.5h1M570 296.5h1M616 296.5h5M147 297.5h3M156 297.5h1M196 297.5h1M204 297.5h1M223 297.5h1M240 297.5h1M335 297.5h5M345 297.5h1M382 297.5h1M386 297.5h3M392 297.5h2M430 297.5h2M452 297.5h3M561 297.5h1M620 297.5h4M150 298.5h1M156 298.5h1M196 298.5h1M204 298.5h2M241 298.5h1M308 298.5h1M339 298.5h2M342 298.5h7M350 298.5h3M380 298.5h1M382 298.5h1M386 298.5h1M388 298.5h2M392 298.5h1M432 298.5h1M454 298.5h2M459 298.5h1M496 298.5h1M561 298.5h2M621 298.5h2M156 299.5h2M195 299.5h1M206 299.5h1M223 299.5h1M241 299.5h1M308 299.5h1M341 299.5h2M347 299.5h4M353 299.5h2M367 299.5h3M380 299.5h1M383 299.5h1M385 299.5h2M390 299.5h2M433 299.5h1M455 299.5h3M496 299.5h3M547 299.5h1M562 299.5h1M570 299.5h1M195 300.5h1M206 300.5h1M218 300.5h2M222 300.5h1M242 300.5h1M307 300.5h1M354 300.5h2M365 300.5h3M370 300.5h3M374 300.5h3M383 300.5h2M390 300.5h2M434 300.5h1M457 300.5h2M498 300.5h1M514 300.5h1M563 300.5h1M570 300.5h1M157 301.5h1M194 301.5h1M207 301.5h1M218 301.5h1M220 301.5h1M222 301.5h1M242 301.5h1M355 301.5h5M362 301.5h1M365 301.5h1M372 301.5h3M376 301.5h4M435 301.5h1M459 301.5h1M498 301.5h2M513 301.5h2M527 301.5h1M564 301.5h3M568 301.5h2M158 302.5h2M194 302.5h1M208 302.5h3M217 302.5h1M220 302.5h2M243 302.5h1M307 302.5h1M360 302.5h5M379 302.5h1M500 302.5h2M515 302.5h1M527 302.5h2M533 302.5h7M541 302.5h7M566 302.5h3M159 303.5h2M193 303.5h1M210 303.5h1M213 303.5h2M216 303.5h1M221 303.5h2M244 303.5h2M283 303.5h1M501 303.5h3M512 303.5h1M515 303.5h1M526 303.5h1M529 303.5h1M531 303.5h3M536 303.5h1M539 303.5h3M160 304.5h3M193 304.5h1M211 304.5h6M245 304.5h1M282 304.5h1M284 304.5h2M504 304.5h2M511 304.5h2M516 304.5h2M520 304.5h4M529 304.5h3M162 305.5h3M177 305.5h2M192 305.5h1M246 305.5h1M281 305.5h2M285 305.5h3M307 305.5h1M505 305.5h3M510 305.5h2M517 305.5h3M524 305.5h1M526 305.5h1M164 306.5h14M188 306.5h5M247 306.5h3M251 306.5h4M269 306.5h4M280 306.5h1M287 306.5h4M302 306.5h5M507 306.5h4M519 306.5h1M525 306.5h1M171 307.5h1M178 307.5h1M180 307.5h4M187 307.5h1M247 307.5h5M254 307.5h6M261 307.5h9M271 307.5h4M278 307.5h2M291 307.5h5M299 307.5h5M179 308.5h1M184 308.5h3M260 308.5h2M274 308.5h1M277 308.5h2M296 308.5h3M275 309.5h2M275 310.5h2" stroke="#ff0000" stroke-width="1" fill="none"/>
<path class="k" d="M52.5 129.5H624.5M52.5 234.5H624.5M52.5 339.5H624.5"/>
<path class="t" d="M164.87 12.65 164.48 11.8 163.69 10.94 162.9 10.51 161.33 10.51 160.54 10.94 159.75 11.8 159.36 12.65 158.97 13.94 158.97 16.08 159.36 17.36 159.75 18.22 160.54 19.07 161.33 19.5 162.9 19.5 163.69 19.07 164.48 18.22 164.87 17.36 164.87 16.08M162.9 16.08 164.87 16.08M169.59 10.51 168.8 10.94 168.02 11.8 167.62 12.65 167.23 13.94 167.23 16.08 167.62 17.36 168.02 18.22 168.8 19.07 169.59 19.5 171.17 19.5 171.95 19.07 172.74 18.22 173.13 17.36 173.53 16.08 173.53 13.94 173.13 12.65 172.74 11.8 171.95 10.94 171.17 10.51 169.59 10.51M176.28 10.51 176.28 19.5M176.28 10.51 181.4 10.51M176.28 14.79 179.43 14.79M176.28 19.5 181.4 19.5M188.87 11.8 188.09 10.94 186.91 10.51 185.33 10.51 184.15 10.94 183.36 11.8 183.36 12.65 183.76 13.51 184.15 13.94 184.94 14.36 187.3 15.22 188.09 15.65 188.48 16.08 188.87 16.93 188.87 18.22 188.09 19.07 186.91 19.5 185.33 19.5 184.15 19.07 183.36 18.22M199.89 10.51 198.71 10.94 197.92 12.22 197.53 14.36 197.53 15.65 197.92 17.79 198.71 19.07 199.89 19.5 200.68 19.5 201.86 19.07 202.65 17.79 203.04 15.65 203.04 14.36 202.65 12.22 201.86 10.94 200.68 10.51 199.89 10.51M206.19 18.64 205.79 19.07 206.19 19.5 206.58 19.07 206.19 18.64M210.52 12.22 211.3 11.8 212.48 10.51 212.48 19.5M217.6 15.65 224.68 15.65M229.8 10.51 228.62 10.94 227.83 12.22 227.44 14.36 227.44 15.65 227.83 17.79 228.62 19.07 229.8 19.5 230.58 19.5 231.76 19.07 232.55 17.79 232.95 15.65 232.95 14.36 232.55 12.22 231.76 10.94 230.58 10.51 229.8 10.51M236.09 18.64 235.7 19.07 236.09 19.5 236.49 19.07 236.09 18.64M241.21 10.51 240.03 10.94 239.63 11.8 239.63 12.65 240.03 13.51 240.82 13.94 242.39 14.36 243.57 14.79 244.36 15.65 244.75 16.5 244.75 17.79 244.36 18.64 243.96 19.07 242.78 19.5 241.21 19.5 240.03 19.07 239.63 18.64 239.24 17.79 239.24 16.5 239.63 15.65 240.42 14.79 241.6 14.36 243.18 13.94 243.96 13.51 244.36 12.65 244.36 11.8 243.96 10.94 242.78 10.51 241.21 10.51M247.5 13.51 247.5 19.5M247.5 15.22 248.69 13.94 249.47 13.51 250.65 13.51 251.44 13.94 251.83 15.22 251.83 19.5M254.98 13.51 254.98 19.5M254.98 15.22 256.16 13.94 256.95 13.51 258.13 13.51 258.92 13.94 259.31 15.22 259.31 19.5M259.31 15.22 260.49 13.94 261.28 13.51 262.46 13.51 263.24 13.94 263.64 15.22 263.64 19.5M275.84 8.8 275.05 9.66 274.26 10.94 273.48 12.65 273.08 14.79 273.08 16.5 273.48 18.64 274.26 20.36 275.05 21.64 275.84 22.5M278.59 13.51 278.59 19.5M278.59 16.08 278.98 14.79 279.77 13.94 280.56 13.51 281.74 13.51M283.31 16.08 288.04 16.08 288.04 15.22 287.64 14.36 287.25 13.94 286.46 13.51 285.28 13.51 284.49 13.94 283.71 14.79 283.31 16.08 283.31 16.93 283.71 18.22 284.49 19.07 285.28 19.5 286.46 19.5 287.25 19.07 288.04 18.22M295.12 10.51 295.12 19.5M295.12 14.79 294.33 13.94 293.54 13.51 292.36 13.51 291.58 13.94 290.79 14.79 290.4 16.08 290.4 16.93 290.79 18.22 291.58 19.07 292.36 19.5 293.54 19.5 294.33 19.07 295.12 18.22M297.87 8.8 298.66 9.66 299.45 10.94 300.23 12.65 300.63 14.79 300.63 16.5 300.23 18.64 299.45 20.36 298.66 21.64 297.87 22.5M304.17 19.5 303.78 19.07 304.17 18.64 304.56 19.07 304.56 19.93 304.17 20.78 303.78 21.21M314.01 10.51 314.01 19.5M314.01 19.5 318.73 19.5M319.52 10.51 322.66 14.79 322.66 19.5M325.81 10.51 322.66 14.79M327.78 10.51 327.78 19.5M327.78 10.51 331.32 10.51 332.5 10.94 332.89 11.37 333.29 12.22 333.29 13.08 332.89 13.94 332.5 14.36 331.32 14.79 327.78 14.79M330.53 14.79 333.29 19.5M338.01 10.51 334.86 19.5M338.01 10.51 341.16 19.5M336.04 16.5 339.98 16.5M351.39 10.51 348.24 19.5M351.39 10.51 354.54 19.5M349.42 16.5 353.36 16.5M356.5 10.51 356.5 19.5M368.7 8.8 367.92 9.66 367.13 10.94 366.34 12.65 365.95 14.79 365.95 16.5 366.34 18.64 367.13 20.36 367.92 21.64 368.7 22.5M371.46 10.51 371.46 19.5M371.46 14.79 372.24 13.94 373.03 13.51 374.21 13.51 375 13.94 375.79 14.79 376.18 16.08 376.18 16.93 375.79 18.22 375 19.07 374.21 19.5 373.03 19.5 372.24 19.07 371.46 18.22M378.93 10.51 378.93 19.5M382.08 13.51 382.08 17.79 382.48 19.07 383.26 19.5 384.44 19.5 385.23 19.07 386.41 17.79M386.41 13.51 386.41 19.5M389.16 16.08 393.89 16.08 393.89 15.22 393.49 14.36 393.1 13.94 392.31 13.51 391.13 13.51 390.35 13.94 389.56 14.79 389.16 16.08 389.16 16.93 389.56 18.22 390.35 19.07 391.13 19.5 392.31 19.5 393.1 19.07 393.89 18.22M396.25 8.8 397.03 9.66 397.82 10.94 398.61 12.65 399 14.79 399 16.5 398.61 18.64 397.82 20.36 397.03 21.64 396.25 22.5M415.92 14.36 415.92 13.94 415.53 13.51 415.14 13.51 414.74 13.94 414.35 14.79 413.56 16.93 412.77 18.22 411.99 19.07 411.2 19.5 409.63 19.5 408.84 19.07 408.45 18.64 408.05 17.79 408.05 16.93 408.45 16.08 408.84 15.65 411.59 13.94 411.99 13.51 412.38 12.65 412.38 11.8 411.99 10.94 411.2 10.51 410.41 10.94 410.02 11.8 410.02 12.65 410.41 13.94 411.2 15.22 413.17 18.22 413.96 19.07 414.74 19.5 415.53 19.5 415.92 19.07 415.92 18.64M430.09 10.51 424.58 19.5M424.58 10.51 430.09 10.51M424.58 19.5 430.09 19.5M432.84 13.51 432.84 19.5M432.84 16.08 433.24 14.79 434.02 13.94 434.81 13.51 435.99 13.51M447.01 8.8 446.22 9.66 445.44 10.94 444.65 12.65 444.25 14.79 444.25 16.5 444.65 18.64 445.44 20.36 446.22 21.64 447.01 22.5M454.09 13.51 454.09 20.36 453.7 21.64 453.31 22.07 452.52 22.5 451.34 22.5 450.55 22.07M454.09 14.79 453.31 13.94 452.52 13.51 451.34 13.51 450.55 13.94 449.76 14.79 449.37 16.08 449.37 16.93 449.76 18.22 450.55 19.07 451.34 19.5 452.52 19.5 453.31 19.07 454.09 18.22M457.24 13.51 457.24 19.5M457.24 16.08 457.63 14.79 458.42 13.94 459.21 13.51 460.39 13.51M461.96 16.08 466.68 16.08 466.68 15.22 466.29 14.36 465.9 13.94 465.11 13.51 463.93 13.51 463.14 13.94 462.36 14.79 461.96 16.08 461.96 16.93 462.36 18.22 463.14 19.07 463.93 19.5 465.11 19.5 465.9 19.07 466.68 18.22M468.65 13.51 471.01 19.5M473.37 13.51 471.01 19.5 470.23 21.21 469.44 22.07 468.65 22.5 468.26 22.5M475.34 8.8 476.13 9.66 476.92 10.94 477.7 12.65 478.1 14.79 478.1 16.5 477.7 18.64 476.92 20.36 476.13 21.64 475.34 22.5M487.54 13.51 487.54 22.5M487.54 14.79 488.33 13.94 489.11 13.51 490.29 13.51 491.08 13.94 491.87 14.79 492.26 16.08 492.26 16.93 491.87 18.22 491.08 19.07 490.29 19.5 489.11 19.5 488.33 19.07 487.54 18.22M495.02 13.51 495.02 19.5M495.02 16.08 495.41 14.79 496.2 13.94 496.98 13.51 498.16 13.51M501.71 13.51 500.92 13.94 500.13 14.79 499.74 16.08 499.74 16.93 500.13 18.22 500.92 19.07 501.71 19.5 502.89 19.5 503.67 19.07 504.46 18.22 504.85 16.93 504.85 16.08 504.46 14.79 503.67 13.94 502.89 13.51 501.71 13.51M507.21 13.51 511.54 19.5M511.54 13.51 507.21 19.5M513.51 13.51 515.87 19.5M518.23 13.51 515.87 19.5 515.08 21.21 514.3 22.07 513.51 22.5 513.12 22.5M268.89 463.2 268.89 469.5M266.68 463.2 271.11 463.2M272.38 463.2 272.7 463.5 273.01 463.2 272.7 462.9 272.38 463.2M272.7 465.3 272.7 469.5M275.23 465.3 275.23 469.5M275.23 466.5 276.19 465.6 276.82 465.3 277.77 465.3 278.4 465.6 278.72 466.5 278.72 469.5M278.72 466.5 279.67 465.6 280.31 465.3 281.26 465.3 281.89 465.6 282.21 466.5 282.21 469.5M284.43 467.1 288.23 467.1 288.23 466.5 287.91 465.9 287.6 465.6 286.96 465.3 286.01 465.3 285.38 465.6 284.74 466.2 284.43 467.1 284.43 467.7 284.74 468.6 285.38 469.2 286.01 469.5 286.96 469.5 287.6 469.2 288.23 468.6M300.59 462 294.89 471.6M307.57 463.2 307.57 469.5M307.57 466.5 308.52 465.6 309.15 465.3 310.1 465.3 310.74 465.6 311.06 466.5 311.06 469.5M318.66 463.2 318.66 467.7 318.98 468.6 319.61 469.2 320.56 469.5 321.2 469.5 322.15 469.2 322.78 468.6 323.1 467.7 323.1 463.2M326.9 463.2 326.9 469.5M324.69 463.2 329.12 463.2M335.15 464.7 334.83 464.1 334.2 463.5 333.56 463.2 332.29 463.2 331.66 463.5 331.03 464.1 330.71 464.7 330.39 465.6 330.39 467.1 330.71 468 331.03 468.6 331.66 469.2 332.29 469.5 333.56 469.5 334.2 469.2 334.83 468.6 335.15 468M337.68 469.5 337.37 469.2 337.68 468.9 338 469.2 338 469.8 337.68 470.4 337.37 470.7M347.19 463.2 346.24 463.5 345.61 464.4 345.29 465.9 345.29 466.8 345.61 468.3 346.24 469.2 347.19 469.5 347.83 469.5 348.78 469.2 349.41 468.3 349.73 466.8 349.73 465.9 349.41 464.4 348.78 463.5 347.83 463.2 347.19 463.2M352.58 464.4 353.22 464.1 354.17 463.2 354.17 469.5M364.94 463.2 362.41 469.5M364.94 463.2 367.48 469.5M363.36 467.4 366.53 467.4M369.07 465.3 369.07 468.3 369.38 469.2 370.02 469.5 370.97 469.5 371.6 469.2 372.55 468.3M372.55 465.3 372.55 469.5M378.58 465.3 378.58 470.1 378.26 471 377.94 471.3 377.31 471.6 376.36 471.6 375.72 471.3M378.58 466.2 377.94 465.6 377.31 465.3 376.36 465.3 375.72 465.6 375.09 466.2 374.77 467.1 374.77 467.7 375.09 468.6 375.72 469.2 376.36 469.5 377.31 469.5 377.94 469.2 378.58 468.6M386.18 464.7 386.18 464.4 386.5 463.8 386.82 463.5 387.45 463.2 388.72 463.2 389.35 463.5 389.67 463.8 389.99 464.4 389.99 465 389.67 465.6 389.04 466.5 385.87 469.5 390.31 469.5M394.11 463.2 393.16 463.5 392.52 464.4 392.21 465.9 392.21 466.8 392.52 468.3 393.16 469.2 394.11 469.5 394.74 469.5 395.69 469.2 396.33 468.3 396.64 466.8 396.64 465.9 396.33 464.4 395.69 463.5 394.74 463.2 394.11 463.2M398.86 464.7 398.86 464.4 399.18 463.8 399.5 463.5 400.13 463.2 401.4 463.2 402.03 463.5 402.35 463.8 402.67 464.4 402.67 465 402.35 465.6 401.72 466.5 398.55 469.5 402.99 469.5M405.2 464.7 405.2 464.4 405.52 463.8 405.84 463.5 406.47 463.2 407.74 463.2 408.37 463.5 408.69 463.8 409.01 464.4 409.01 465 408.69 465.6 408.06 466.5 404.89 469.5 409.32 469.5M52.18 451.2 51.23 451.5 50.6 452.4 50.28 453.9 50.28 454.8 50.6 456.3 51.23 457.2 52.18 457.5 52.82 457.5 53.77 457.2 54.4 456.3 54.72 454.8 54.72 453.9 54.4 452.4 53.77 451.5 52.82 451.2 52.18 451.2M173.25 451.2 170.08 451.2 169.76 453.9 170.08 453.6 171.03 453.3 171.98 453.3 172.93 453.6 173.57 454.2 173.89 455.1 173.89 455.7 173.57 456.6 172.93 457.2 171.98 457.5 171.03 457.5 170.08 457.2 169.76 456.9 169.45 456.3M286.4 452.4 287.03 452.1 287.98 451.2 287.98 457.5M293.69 451.2 292.74 451.5 292.1 452.4 291.78 453.9 291.78 454.8 292.1 456.3 292.74 457.2 293.69 457.5 294.32 457.5 295.27 457.2 295.91 456.3 296.22 454.8 296.22 453.9 295.91 452.4 295.27 451.5 294.32 451.2 293.69 451.2M405.56 452.4 406.2 452.1 407.15 451.2 407.15 457.5M414.75 451.2 411.58 451.2 411.27 453.9 411.58 453.6 412.54 453.3 413.49 453.3 414.44 453.6 415.07 454.2 415.39 455.1 415.39 455.7 415.07 456.6 414.44 457.2 413.49 457.5 412.54 457.5 411.58 457.2 411.27 456.9 410.95 456.3M524.09 452.7 524.09 452.4 524.41 451.8 524.73 451.5 525.36 451.2 526.63 451.2 527.26 451.5 527.58 451.8 527.9 452.4 527.9 453 527.58 453.6 526.95 454.5 523.78 457.5 528.22 457.5M532.02 451.2 531.07 451.5 530.43 452.4 530.12 453.9 530.12 454.8 530.43 456.3 531.07 457.2 532.02 457.5 532.65 457.5 533.6 457.2 534.24 456.3 534.56 454.8 534.56 453.9 534.24 452.4 533.6 451.5 532.65 451.2 532.02 451.2M489.87 487.36 489.87 494.5M489.87 487.36 492.88 487.36 493.89 487.7 494.22 488.04 494.55 488.72 494.55 489.4 494.22 490.08 493.89 490.42 492.88 490.76 489.87 490.76M492.21 490.76 494.55 494.5M498.57 487.36 497.9 487.7 497.23 488.38 496.9 489.06 496.56 490.08 496.56 491.78 496.9 492.8 497.23 493.48 497.9 494.16 498.57 494.5 499.91 494.5 500.58 494.16 501.24 493.48 501.58 492.8 501.91 491.78 501.91 490.08 501.58 489.06 501.24 488.38 500.58 487.7 499.91 487.36 498.57 487.36M504.25 487.36 504.25 494.5M504.25 487.36 507.27 487.36 508.27 487.7 508.6 488.04 508.94 488.72 508.94 489.4 508.6 490.08 508.27 490.42 507.27 490.76M504.25 490.76 507.27 490.76 508.27 491.1 508.6 491.44 508.94 492.12 508.94 493.14 508.6 493.82 508.27 494.16 507.27 494.5 504.25 494.5M516.63 486 510.61 496.88M522.99 488.38 522.32 487.7 521.31 487.36 519.98 487.36 518.97 487.7 518.3 488.38 518.3 489.06 518.64 489.74 518.97 490.08 519.64 490.42 521.65 491.1 522.32 491.44 522.65 491.78 522.99 492.46 522.99 493.48 522.32 494.16 521.31 494.5 519.98 494.5 518.97 494.16 518.3 493.48M525.33 487.36 525.33 494.5M528 487.36 528 494.5M528 487.36 530.35 487.36 531.35 487.7 532.02 488.38 532.35 489.06 532.69 490.08 532.69 491.78 532.35 492.8 532.02 493.48 531.35 494.16 530.35 494.5 528 494.5M539.71 489.06 539.38 488.38 538.71 487.7 538.04 487.36 536.7 487.36 536.03 487.7 535.36 488.38 535.03 489.06 534.69 490.08 534.69 491.78 535.03 492.8 535.36 493.48 536.03 494.16 536.7 494.5 538.04 494.5 538.71 494.16 539.38 493.48 539.71 492.8M542.39 494.5 542.05 494.16 542.39 493.82 542.72 494.16 542.72 494.84 542.39 495.52 542.05 495.86M550.75 487.36 550.75 494.5M550.75 487.36 553.76 487.36 554.76 487.7 555.1 488.04 555.43 488.72 555.43 489.4 555.1 490.08 554.76 490.42 553.76 490.76M550.75 490.76 553.76 490.76 554.76 491.1 555.1 491.44 555.43 492.12 555.43 493.14 555.1 493.82 554.76 494.16 553.76 494.5 550.75 494.5M557.77 489.74 557.77 494.5M557.77 491.78 558.11 490.76 558.78 490.08 559.45 489.74 560.45 489.74M562.12 489.74 562.12 493.14 562.46 494.16 563.13 494.5 564.13 494.5 564.8 494.16 565.8 493.14M565.8 489.74 565.8 494.5M571.82 490.76 571.49 490.08 570.49 489.74 569.48 489.74 568.48 490.08 568.14 490.76 568.48 491.44 569.15 491.78 570.82 492.12 571.49 492.46 571.82 493.14 571.82 493.48 571.49 494.16 570.49 494.5 569.48 494.5 568.48 494.16 568.14 493.48M577.51 490.76 577.18 490.08 576.17 489.74 575.17 489.74 574.17 490.08 573.83 490.76 574.17 491.44 574.83 491.78 576.51 492.12 577.18 492.46 577.51 493.14 577.51 493.48 577.18 494.16 576.17 494.5 575.17 494.5 574.17 494.16 573.83 493.48M579.52 491.78 583.53 491.78 583.53 491.1 583.2 490.42 582.86 490.08 582.19 489.74 581.19 489.74 580.52 490.08 579.85 490.76 579.52 491.78 579.52 492.46 579.85 493.48 580.52 494.16 581.19 494.5 582.19 494.5 582.86 494.16 583.53 493.48M585.87 487.36 585.87 494.5M591.89 490.76 591.56 490.08 590.56 489.74 589.55 489.74 588.55 490.08 588.21 490.76 588.55 491.44 589.22 491.78 590.89 492.12 591.56 492.46 591.89 493.14 591.89 493.48 591.56 494.16 590.56 494.5 589.55 494.5 588.55 494.16 588.21 493.48M594.57 494.5 594.24 494.16 594.57 493.82 594.9 494.16 594.9 494.84 594.57 495.52 594.24 495.86M602.93 487.36 602.93 494.5M602.93 487.36 605.94 487.36 606.95 487.7 607.28 488.04 607.62 488.72 607.62 489.4 607.28 490.08 606.95 490.42 605.94 490.76M602.93 490.76 605.94 490.76 606.95 491.1 607.28 491.44 607.62 492.12 607.62 493.14 607.28 493.82 606.95 494.16 605.94 494.5 602.93 494.5M609.62 491.78 613.64 491.78 613.64 491.1 613.3 490.42 612.97 490.08 612.3 489.74 611.29 489.74 610.63 490.08 609.96 490.76 609.62 491.78 609.62 492.46 609.96 493.48 610.63 494.16 611.29 494.5 612.3 494.5 612.97 494.16 613.64 493.48M615.98 487.36 615.98 494.5M622.33 489.74 622.33 495.18 622 496.2 621.66 496.54 621 496.88 619.99 496.88 619.32 496.54M622.33 490.76 621.66 490.08 621 489.74 619.99 489.74 619.32 490.08 618.65 490.76 618.32 491.78 618.32 492.46 618.65 493.48 619.32 494.16 619.99 494.5 621 494.5 621.66 494.16 622.33 493.48M624.67 487.36 625.01 487.7 625.34 487.36 625.01 487.02 624.67 487.36M625.01 489.74 625.01 494.5M627.69 489.74 627.69 493.14 628.02 494.16 628.69 494.5 629.69 494.5 630.36 494.16 631.37 493.14M631.37 489.74 631.37 494.5M634.04 489.74 634.04 494.5M634.04 491.1 635.04 490.08 635.71 489.74 636.72 489.74 637.39 490.08 637.72 491.1 637.72 494.5M637.72 491.1 638.72 490.08 639.39 489.74 640.4 489.74 641.07 490.08 641.4 491.1 641.4 494.5M632.05 72.47 632.05 79.4M632.05 72.47 634.74 79.4M637.44 72.47 634.74 79.4M637.44 72.47 637.44 79.4M636.77 179.12 636.43 178.46 635.75 177.8 635.08 177.47 633.73 177.47 633.06 177.8 632.38 178.46 632.05 179.12 631.71 180.11 631.71 181.76 632.05 182.75 632.38 183.41 633.06 184.07 633.73 184.4 635.08 184.4 635.75 184.07 636.43 183.41 636.77 182.75M632.05 282.47 632.05 289.4M632.05 282.47 635.08 282.47 636.09 282.8 636.43 283.13 636.77 283.79 636.77 284.45 636.43 285.11 636.09 285.44 635.08 285.77M632.05 285.77 635.08 285.77 636.09 286.1 636.43 286.43 636.77 287.09 636.77 288.08 636.43 288.74 636.09 289.07 635.08 289.4 632.05 289.4M633.73 387.47 631.04 394.4M633.73 387.47 636.43 394.4M632.05 392.09 635.42 392.09M33.73 25.45 34.2 25.22 34.92 24.5 34.92 29.5M39.2 24.5 38.49 24.74 38.01 25.45 37.77 26.64 37.77 27.36 38.01 28.55 38.49 29.26 39.2 29.5 39.68 29.5 40.39 29.26 40.87 28.55 41.1 27.36 41.1 26.64 40.87 25.45 40.39 24.74 39.68 24.5 39.2 24.5M43.6 24.16 46.25 24.16M48.76 22.27 47.29 24.47 49.5 24.47M48.76 22.27 48.76 25.57M33.87 128.45 34.35 128.22 35.06 127.5 35.06 132.5M39.35 127.5 38.63 127.74 38.16 128.45 37.92 129.64 37.92 130.36 38.16 131.55 38.63 132.26 39.35 132.5 39.82 132.5 40.54 132.26 41.01 131.55 41.25 130.36 41.25 129.64 41.01 128.45 40.54 127.74 39.82 127.5 39.35 127.5M43.75 127.16 46.4 127.16M49.2 125.27 47.73 125.27 47.58 126.69 47.73 126.53 48.17 126.37 48.61 126.37 49.06 126.53 49.35 126.85 49.5 127.32 49.5 127.63 49.35 128.1 49.06 128.42 48.61 128.57 48.17 128.57 47.73 128.42 47.58 128.26 47.43 127.94M33.87 233.45 34.35 233.22 35.06 232.5 35.06 237.5M39.35 232.5 38.63 232.74 38.16 233.45 37.92 234.64 37.92 235.36 38.16 236.55 38.63 237.26 39.35 237.5 39.82 237.5 40.54 237.26 41.01 236.55 41.25 235.36 41.25 234.64 41.01 233.45 40.54 232.74 39.82 232.5 39.35 232.5M43.75 232.16 46.4 232.16M49.35 230.75 49.2 230.43 48.76 230.27 48.47 230.27 48.02 230.43 47.73 230.9 47.58 231.69 47.58 232.47 47.73 233.1 48.02 233.42 48.47 233.57 48.61 233.57 49.06 233.42 49.35 233.1 49.5 232.63 49.5 232.47 49.35 232 49.06 231.69 48.61 231.53 48.47 231.53 48.02 231.69 47.73 232 47.58 232.47M33.87 338.45 34.35 338.22 35.06 337.5 35.06 342.5M39.35 337.5 38.63 337.74 38.16 338.45 37.92 339.64 37.92 340.36 38.16 341.55 38.63 342.26 39.35 342.5 39.82 342.5 40.54 342.26 41.01 341.55 41.25 340.36 41.25 339.64 41.01 338.45 40.54 337.74 39.82 337.5 39.35 337.5M43.75 337.16 46.4 337.16M49.5 335.27 48.02 338.57M47.43 335.27 49.5 335.27M33.87 440.45 34.35 440.22 35.06 439.5 35.06 444.5M39.35 439.5 38.63 439.74 38.16 440.45 37.92 441.64 37.92 442.36 38.16 443.55 38.63 444.26 39.35 444.5 39.82 444.5 40.54 444.26 41.01 443.55 41.25 442.36 41.25 441.64 41.01 440.45 40.54 439.74 39.82 439.5 39.35 439.5M43.75 439.16 46.4 439.16M48.17 437.27 47.73 437.43 47.58 437.75 47.58 438.06 47.73 438.37 48.02 438.53 48.61 438.69 49.06 438.85 49.35 439.16 49.5 439.47 49.5 439.94 49.35 440.26 49.2 440.42 48.76 440.57 48.17 440.57 47.73 440.42 47.58 440.26 47.43 439.94 47.43 439.47 47.58 439.16 47.88 438.85 48.32 438.69 48.91 438.53 49.2 438.37 49.35 438.06 49.35 437.75 49.2 437.43 48.76 437.27 48.17 437.27M21.69 284.61 21.22 284.87 20.74 285.37 20.5 285.87 20.5 286.87 20.74 287.37 21.22 287.87 21.69 288.12 22.41 288.37 23.6 288.37 24.31 288.12 24.79 287.87 25.26 287.37 25.5 286.87 25.5 285.87 25.26 285.37 24.79 284.87 24.31 284.61 23.6 284.61M23.6 285.87 23.6 284.61M20.5 281.61 20.74 282.11 21.22 282.61 21.69 282.86 22.41 283.11 23.6 283.11 24.31 282.86 24.79 282.61 25.26 282.11 25.5 281.61 25.5 280.61 25.26 280.11 24.79 279.6 24.31 279.35 23.6 279.1 22.41 279.1 21.69 279.35 21.22 279.6 20.74 280.11 20.5 280.61 20.5 281.61M20.5 277.35 25.5 277.35M20.5 277.35 20.5 274.09M22.88 277.35 22.88 275.35M25.5 277.35 25.5 274.09M21.22 269.33 20.74 269.84 20.5 270.59 20.5 271.59 20.74 272.34 21.22 272.84 21.69 272.84 22.17 272.59 22.41 272.34 22.64 271.84 23.12 270.34 23.36 269.84 23.6 269.58 24.07 269.33 24.79 269.33 25.26 269.84 25.5 270.59 25.5 271.59 25.26 272.34 24.79 272.84M20.5 263.57 25.5 263.57M22.17 261.57 25.5 261.57M23.6 261.57 22.88 261.32 22.41 260.82 22.17 260.32 22.17 259.56M22.17 258.31 25.5 258.31M23.6 258.31 22.88 258.06 22.41 257.56 22.17 257.06 22.17 256.31M22.17 252.3 25.5 252.3M22.88 252.3 22.41 252.8 22.17 253.3 22.17 254.05 22.41 254.55 22.88 255.06 23.6 255.31 24.07 255.31 24.79 255.06 25.26 254.55 25.5 254.05 25.5 253.3 25.26 252.8 24.79 252.3M20.5 247.54 25.5 247.54M22.88 247.54 22.41 248.04 22.17 248.54 22.17 249.29 22.41 249.8 22.88 250.3 23.6 250.55 24.07 250.55 24.79 250.3 25.26 249.8 25.5 249.29 25.5 248.54 25.26 248.04 24.79 247.54M20.5 245.79 20.74 245.54 20.5 245.29 20.26 245.54 20.5 245.79M22.17 245.54 25.5 245.54M22.17 240.78 25.5 240.78M22.88 240.78 22.41 241.28 22.17 241.78 22.17 242.53 22.41 243.03 22.88 243.53 23.6 243.78 24.07 243.78 24.79 243.53 25.26 243.03 25.5 242.53 25.5 241.78 25.26 241.28 24.79 240.78M22.17 238.77 25.5 238.77M23.12 238.77 22.41 238.02 22.17 237.52 22.17 236.77 22.41 236.27 23.12 236.02 25.5 236.02M22.88 231.26 22.41 231.76 22.17 232.26 22.17 233.01 22.41 233.51 22.88 234.01 23.6 234.26 24.07 234.26 24.79 234.01 25.26 233.51 25.5 233.01 25.5 232.26 25.26 231.76 24.79 231.26M23.6 229.76 23.6 226.75 23.12 226.75 22.64 227 22.41 227.25 22.17 227.75 22.17 228.5 22.41 229 22.88 229.5 23.6 229.76 24.07 229.76 24.79 229.5 25.26 229 25.5 228.5 25.5 227.75 25.26 227.25 24.79 226.75M19.55 216.98 27.17 221.49M19.55 209.72 20.03 210.22 20.74 210.72 21.69 211.22 22.88 211.47 23.83 211.47 25.02 211.22 25.98 210.72 26.69 210.22 27.17 209.72M20.5 208.46 25.5 207.21M20.5 205.96 25.5 207.21M20.5 205.96 25.5 204.71M20.5 203.45 25.5 204.71M22.17 197.94 25.5 197.94M23.12 197.94 22.41 197.19 22.17 196.69 22.17 195.94 22.41 195.44 23.12 195.19 25.5 195.19M23.12 195.19 22.41 194.43 22.17 193.93 22.17 193.18 22.41 192.68 23.12 192.43 25.5 192.43M20.16 190.06 20.16 187.26M19.06 186.02 18.9 186.02 18.59 185.86 18.43 185.71 18.27 185.4 18.27 184.78 18.43 184.46 18.59 184.31 18.9 184.15 19.22 184.15 19.53 184.31 20 184.62 21.57 186.17 21.57 184M19.55 182.78 20.03 182.28 20.74 181.78 21.69 181.28 22.88 181.03 23.83 181.03 25.02 181.28 25.98 181.78 26.69 182.28 27.17 182.78"/>
</svg>
</body></html>
